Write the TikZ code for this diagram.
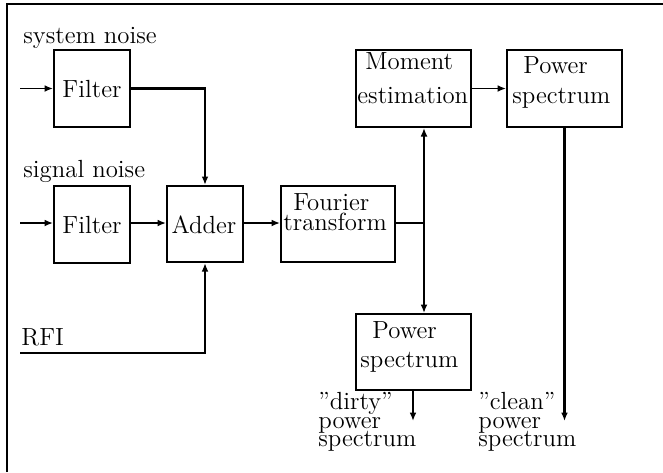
\documentclass[tikz,border=0pt]{standalone}
\usetikzlibrary{arrows.meta}
\begin{document}
\begin{tikzpicture}[x=0.5pt,y=-0.5pt,
  blk/.style={draw,line width=1.1pt,inner sep=0pt,rectangle},
  lbl/.style={inner sep=0pt,font=\fontsize{12.4}{14}\selectfont},
  thin/.style={line width=0.65pt},
  thick/.style={line width=1.3pt},
  tip/.style={-{Latex[length=4.2pt,width=3.4pt]}}]
\useasboundingbox (0,0) rectangle (663,472);
% frame
\draw[line width=1.2pt] (7,472) -- (7,4) -- (663,4);

% blocks
\node[blk,minimum width=38pt,minimum height=38.5pt] (f1) at (92,88.5) {};
\node[blk,minimum width=38pt,minimum height=38.5pt] (f2) at (92,224.5) {};
\node[blk,minimum width=38pt,minimum height=38pt] (adder) at (205,224) {};
\node[blk,minimum width=57pt,minimum height=38pt] (fourier) at (338,224) {};
\node[blk,minimum width=57.5pt,minimum height=38.5pt] (moment) at (413.5,88.5) {};
\node[blk,minimum width=57.5pt,minimum height=38.5pt] (ptop) at (564.5,88.5) {};
\node[blk,minimum width=57.5pt,minimum height=38pt] (pbot) at (413.5,352) {};

% block texts
\node[lbl,anchor=base] (f1t) at (92,97) {Filter};
\node[lbl,anchor=base] (f2t) at (92,233) {Filter};
\node[lbl,anchor=base] (addt) at (204,233) {Adder};
\node[lbl,anchor=base west] (ft1) at (293,210) {Fourier};
\node[lbl,anchor=base west] (ft2) at (283,230) {transform};
\node[lbl,anchor=base west] (mt1) at (365,69) {Moment};
\node[lbl,anchor=base west] (mt2) at (357,103) {estimation};
\node[lbl,anchor=base west] (pt1) at (523,73) {Power};
\node[lbl,anchor=base west] (pt2) at (512,103) {spectrum};
\node[lbl,anchor=base west] (pb1) at (372,338) {Power};
\node[lbl,anchor=base west] (pb2) at (360,367) {spectrum};

% input labels
\node[lbl,anchor=base west] (sysn) at (23,43) {system noise};
\node[lbl,anchor=base west] (sign) at (23,177) {signal noise};
\node[lbl,anchor=base west] (rfi) at (21,345) {RFI};

% output labels
\node[lbl,anchor=base west] (d1) at (318,409) {''dirty''};
\node[lbl,anchor=base west] (d2) at (318,428) {power};
\node[lbl,anchor=base west] (d3) at (318,446) {spectrum};
\node[lbl,anchor=base west] (c1) at (478,409) {''clean''};
\node[lbl,anchor=base west] (c2) at (478,428) {power};
\node[lbl,anchor=base west] (c3) at (478,446) {spectrum};

% free ends
\coordinate (in1) at (20,88.5);
\coordinate (in2) at (20,223);
\coordinate (inr) at (20,353);
\coordinate (split) at (424,223);
\coordinate (dirty) at (413,421);
\coordinate (clean) at (564.5,421);

% connectors
\draw[thin,tip] (in1) -- (f1.west);
\draw[thin,tip] (in2) -- (in2 -| f2.west);
\draw[thick,tip] (f1.east) -| (adder.north);
\draw[thin,tip] (f2.east |- in2) -- (in2 -| adder.west);
\draw[thick,tip] (inr) -| (adder.south);
\draw[thin,tip] (adder.east |- in2) -- (in2 -| fourier.west);
\draw[thin] (fourier.east |- split) -- (split);
\draw[thin,tip] (split) -- (split |- moment.south);
\draw[thin,tip] (split) -- (split |- pbot.north);
\draw[thin,tip] (moment.east) -- (ptop.west);
\draw[thick,tip] (ptop.south) -- (clean);
\draw[thick,tip] (dirty |- pbot.south) -- (dirty);
\end{tikzpicture}
\end{document}
